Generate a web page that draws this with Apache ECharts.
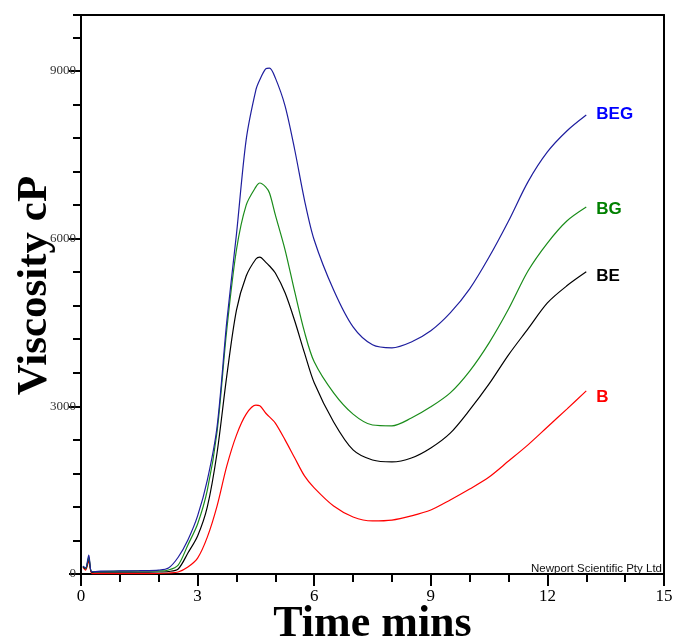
<!DOCTYPE html>
<html><head><meta charset="utf-8">
<script src="https://cdn.jsdelivr.net/npm/echarts@6/dist/echarts.min.js"></script>
<style>html,body{margin:0;padding:0;background:#fff}#c{width:675px;height:641px}</style>
</head><body><div id="c"></div>
<script>
// Time (mins)
const time = [0.05, 0.12, 0.2, 0.28, 0.5, 1, 1.5, 2, 2.25, 2.5, 2.75, 3, 3.25, 3.5, 3.75, 4, 4.25, 4.5, 4.6, 4.75, 4.85, 5, 5.25, 5.5, 5.75, 6, 6.5, 7, 7.5, 8, 8.5, 9, 9.5, 10, 10.5, 11, 11.5, 12, 12.5, 13];
// Viscosity cP
const viscBEG = [140, 110, 340, 40, 50, 55, 60, 70, 107, 300, 610, 1040, 1680, 2630, 4510, 6080, 7770, 8660, 8840, 9035, 9050, 8875, 8375, 7585, 6690, 5975, 5080, 4420, 4100, 4045, 4150, 4350, 4670, 5100, 5670, 6315, 7015, 7550, 7925, 8210];
const viscBG  = [140, 100, 300, 40, 45, 50, 55, 55, 72, 160, 520, 895, 1500, 2540, 4365, 5800, 6600, 6925, 6995, 6925, 6815, 6425, 5800, 5045, 4330, 3795, 3240, 2860, 2665, 2650, 2790, 2990, 3240, 3630, 4135, 4740, 5420, 5920, 6315, 6565];
const viscBE  = [130, 90, 280, 30, 35, 35, 35, 36, 45, 90, 375, 680, 1200, 2165, 3540, 4720, 5330, 5635, 5670, 5580, 5510, 5385, 5030, 4525, 3955, 3420, 2720, 2220, 2040, 2005, 2075, 2255, 2520, 2935, 3400, 3920, 4385, 4850, 5155, 5405];
const viscB   = [120, 70, 230, 10, 5, 5, 5, 9, 18, 36, 125, 285, 660, 1215, 1930, 2485, 2860, 3020, 3010, 2880, 2810, 2700, 2400, 2075, 1755, 1540, 1215, 1020, 950, 965, 1040, 1145, 1325, 1520, 1735, 2020, 2310, 2630, 2950, 3275];
const seriesNames = ['BEG', 'BG', 'BE', 'B'];
const seriesValues = [viscBEG, viscBG, viscBE, viscB];
const xTitle = 'Time mins';
const yTitle = 'Viscosity cP';
const credit = 'Newport Scientific Pty Ltd';

// styles
const lineColors = ['#1e1e9e', '#1a8c1a', '#000000', '#ff0000'];
const labelColors = ['#0000ff', '#008000', '#000000', '#ff0000'];
const labelOffsets = [[0, -1], [0, 2], [0, 4], [0, 6]];

const chart = echarts.init(document.getElementById('c'), null, {renderer: 'canvas'});
const serif = "'Liberation Serif', 'Times New Roman', serif";
const sans = "'Liberation Sans', Arial, sans-serif";
const axisLineStyle = {color: '#000', width: 2};

chart.setOption({
  animation: false,
  backgroundColor: '#fff',
  grid: {left: 81, right: 11, top: 15, bottom: 67, containLabel: false, outerBoundsMode: 'none'},
  xAxis: [
    {type: 'value', min: 0, max: 15, interval: 3, position: 'bottom',
     name: xTitle, nameLocation: 'middle', nameGap: 29, nameMoveOverlap: false,
     nameTextStyle: {fontFamily: serif, fontWeight: 'bold', fontSize: 44, color: '#000'},
     axisLine: {onZero: false, lineStyle: axisLineStyle},
     axisTick: {length: 12, lineStyle: {color: '#000', width: 2}},
     axisLabel: {fontFamily: serif, fontSize: 17, color: '#000', margin: 14},
     splitLine: {show: false}},
    {type: 'value', min: 0, max: 15, interval: 1, position: 'bottom',
     axisLine: {show: false, onZero: false},
     axisTick: {length: 8, lineStyle: {color: '#000', width: 2}},
     axisLabel: {show: false}, splitLine: {show: false}},
    {type: 'value', min: 0, max: 15, position: 'top',
     axisLine: {onZero: false, lineStyle: axisLineStyle},
     axisTick: {show: false}, axisLabel: {show: false}, splitLine: {show: false}}
  ],
  yAxis: [
    {type: 'value', min: 0, max: 10000, interval: 3000, position: 'left',
     name: yTitle, nameLocation: 'middle', nameGap: 25, nameRotate: 90, nameMoveOverlap: false,
     nameTextStyle: {fontFamily: serif, fontWeight: 'bold', fontSize: 43, color: '#000', padding: [0, 0, 0, 18]},
     axisLine: {onZero: false, lineStyle: axisLineStyle},
     axisTick: {length: 12, lineStyle: {color: '#000', width: 2}},
     axisLabel: {fontFamily: serif, fontSize: 13, color: '#333', margin: 5, showMaxLabel: false,
       formatter: v => (v % 3000 === 0 ? String(v) : '')},
     splitLine: {show: false}},
    {type: 'value', min: 0, max: 10000, interval: 600, position: 'left',
     axisLine: {show: false, onZero: false},
     axisTick: {length: 8, lineStyle: {color: '#000', width: 2}},
     axisLabel: {show: false}, splitLine: {show: false}},
    {type: 'value', min: 0, max: 10000, position: 'right',
     axisLine: {onZero: false, lineStyle: axisLineStyle},
     axisTick: {show: false}, axisLabel: {show: false}, splitLine: {show: false}}
  ],
  series: seriesNames.map((name, k) => ({
    name: name,
    type: 'line',
    xAxisIndex: 0, yAxisIndex: 0,
    data: time.map((t, i) => [t, seriesValues[k][i]]),
    showSymbol: false,
    smooth: 0.3,
    lineStyle: {color: lineColors[k], width: 1.2},
    itemStyle: {color: lineColors[k]},
    endLabel: {show: true, formatter: '{a}', color: labelColors[k], fontFamily: sans,
      fontWeight: 'bold', fontSize: 17, distance: 10, offset: labelOffsets[k]},
    z: 10 - k
  })),
  graphic: [
    {type: 'text', right: 13, top: 563,
     style: {text: credit, fontFamily: sans, fontSize: 11.5, fill: '#111'}}
  ]
});
</script>
</body></html>
